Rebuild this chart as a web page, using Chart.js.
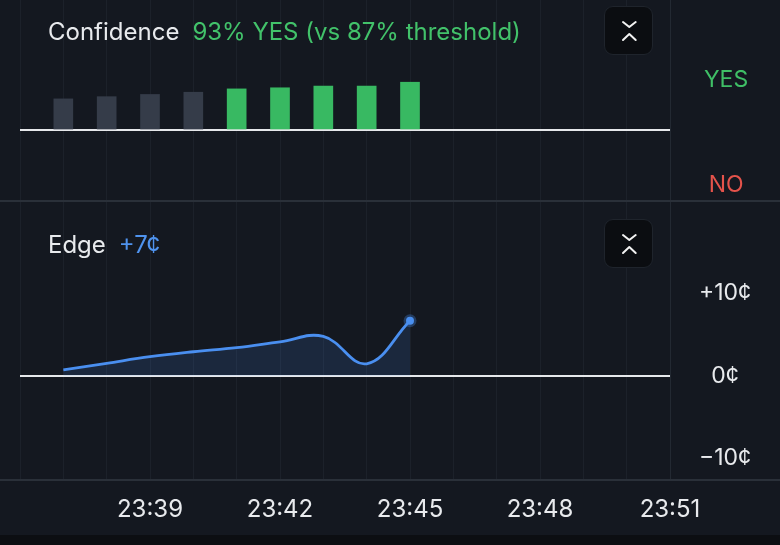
<!DOCTYPE html>
<html>
<head>
<meta charset="utf-8">
<script src="https://cdn.jsdelivr.net/npm/chart.js@4.4.1/dist/chart.umd.min.js"></script>
<style>
  html, body { margin: 0; padding: 0; background: #0c0e12; }
  body { width: 780px; height: 545px; position: relative; overflow: hidden; font-family: Inter, "Noto Sans", sans-serif; }
  .panel { position: absolute; left: 0; width: 780px; background: #141820; }
  #topWrap { top: 0; height: 200px; }
  #botWrap { top: 202px; height: 333px; }
  .rule { position: absolute; left: 0; width: 780px; height: 2px; background: #2a3039; }
  .head { position: absolute; left: 48px; font-size: 24px; line-height: 28px; color: #e8eaed; white-space: pre; }
  .head span { margin-left: 13px; }
  .btn { position: absolute; left: 604px; width: 47px; height: 47px; background: #0b0d11; border: 1px solid #1f242c; border-radius: 9px; }
  .btn svg { position: absolute; left: -1px; top: -1px; }
</style>
</head>
<body>
<div class="panel" id="topWrap"><canvas id="confChart"></canvas></div>
<div class="rule" style="top:200px"></div>
<div class="panel" id="botWrap"><canvas id="edgeChart"></canvas></div>
<div class="rule" style="top:479px"></div>

<div class="head" style="top:18px">Confidence<span id="confText" style="color:#42c26a"></span></div>
<div class="head" style="top:231px">Edge<span id="edgeText" style="color:#4f93ee"></span></div>

<div class="btn" style="top:6px"><svg width="49" height="49"><path d="M19 16 L25.3 21 L31.7 16 M19 34 L25.3 28 L31.7 34" fill="none" stroke="#f2f2f2" stroke-width="2" stroke-linecap="round" stroke-linejoin="round"/></svg></div>
<div class="btn" style="top:219px"><svg width="49" height="49"><path d="M19 16 L25.3 21 L31.7 16 M19 34 L25.3 28 L31.7 34" fill="none" stroke="#f2f2f2" stroke-width="2" stroke-linecap="round" stroke-linejoin="round"/></svg></div>

<script>
    // time axis, one slot per minute
    var axisMinutes = ['23:36', '23:37', '23:38', '23:39', '23:40', '23:41', '23:42', '23:43',
                       '23:44', '23:45', '23:46', '23:47', '23:48', '23:49', '23:50', '23:51'];
    var timeTicks = ['23:39', '23:42', '23:45', '23:48', '23:51'];

    // confidence bars (% YES)
    var confTimes = ['23:37', '23:38', '23:39', '23:40', '23:41', '23:42', '23:43', '23:44', '23:45'];
    var confidence = [78, 80, 82, 84, 87, 88, 89.5, 89.5, 93];
    var threshold = 87;
    var neutral = 50;

    // edge line (cents)
    var edgeTimes = ['23:37', '23:38', '23:39', '23:40', '23:41', '23:42', '23:43', '23:44', '23:45'];
    var edge = [0.7, 1.5, 2.3, 2.9, 3.4, 4.1, 4.75, 1.45, 6.65];
    var edgeTicks = [10, 0, -10];

    var GREEN = '#38b962';
    var GREY = '#353c49';
    var BLUE = '#4a8ff0';
    var WHITE = '#e6e8eb';
    var GRID = '#1c212a';
    var TEXT = '#e8eaed';
    var FONT = 'Inter, "Noto Sans", sans-serif';

    document.getElementById('confText').textContent =
        confidence[confidence.length - 1] + '% YES (vs ' + threshold + '% threshold)';
    var lastEdge = Math.round(edge[edge.length - 1]);
    document.getElementById('edgeText').textContent = (lastEdge > 0 ? '+' : '') + lastEdge + '¢';

    function minuteGrid(showLabels) {
        return {
            type: 'category',
            labels: axisMinutes,
            offset: false,
            grid: { color: GRID, lineWidth: 1, offset: false, drawTicks: false },
            border: { display: false },
            ticks: {
                display: showLabels,
                autoSkip: false,
                maxRotation: 0,
                padding: 15,
                color: TEXT,
                font: { family: FONT, size: 24 },
                callback: function (v) {
                    var l = this.getLabelForValue(v);
                    return timeTicks.indexOf(l) >= 0 ? l : '';
                }
            },
            afterFit: function (s) {
                s.height = showLabels ? 55 : 0;
                s.paddingLeft = 0; s.paddingRight = 0;
            }
        };
    }

    function sideAxis(min, max, tickValues, labelFn, colorFn, zeroValue, pad) {
        return {
            position: 'right',
            min: min,
            max: max,
            afterBuildTicks: function (s) {
                s.ticks = tickValues.map(function (v) { return { value: v }; });
            },
            grid: {
                drawTicks: false,
                color: function (c) { return c.tick && c.tick.value === zeroValue ? WHITE : 'rgba(0,0,0,0)'; },
                lineWidth: function (c) { return c.tick && c.tick.value === zeroValue ? 2 : 0; }
            },
            border: { display: true, color: '#232932', width: 1 },
            ticks: {
                crossAlign: 'center',
                padding: pad,
                color: colorFn,
                font: { family: FONT, size: 23 },
                callback: labelFn
            },
            afterFit: function (s) {
                s.width = 110;
                s.paddingTop = 0; s.paddingBottom = 0;
            }
        };
    }

    new Chart(document.getElementById('confChart'), {
        type: 'bar',
        data: {
            datasets: [{
                label: 'Confidence',
                data: confTimes.map(function (t, i) { return { x: t, y: confidence[i] }; }),
                base: neutral,
                barThickness: 19,
                backgroundColor: function (c) { return c.parsed && c.parsed.y >= threshold ? GREEN : GREY; }
            }]
        },
        options: {
            responsive: true,
            maintainAspectRatio: false,
            animation: false,
            layout: { autoPadding: false, padding: { left: 20, right: 0, top: 0, bottom: 0 } },
            plugins: { legend: { display: false }, tooltip: { enabled: false } },
            scales: {
                x: minuteGrid(false),
                y: sideAxis(-13, 167, [95, neutral, 0],
                    function (v) { return v === 95 ? 'YES' : (v === 0 ? 'NO' : ''); },
                    function (c) { return c.tick.value === 95 ? '#3fbf66' : '#e5534b'; },
                    neutral, 34)
            }
        }
    });

    new Chart(document.getElementById('edgeChart'), {
        type: 'line',
        data: {
            datasets: [{
                label: 'Edge',
                data: edgeTimes.map(function (t, i) { return { x: t, y: edge[i] }; }),
                borderColor: BLUE,
                borderWidth: 2.8,
                tension: 0.4,
                fill: 'origin',
                backgroundColor: 'rgba(74,143,240,0.14)',
                pointRadius: function (c) { return c.dataIndex === edge.length - 1 ? 4 : 0; },
                pointBackgroundColor: BLUE,
                pointBorderColor: 'rgba(74,143,240,0.3)',
                pointBorderWidth: 5
            }]
        },
        options: {
            responsive: true,
            maintainAspectRatio: false,
            animation: false,
            layout: { autoPadding: false, padding: { left: 20, right: 0, top: 0, bottom: 0 } },
            plugins: { legend: { display: false }, tooltip: { enabled: false } },
            scales: {
                x: minuteGrid(true),
                y: sideAxis(-12.6, 21, edgeTicks,
                    function (v) { return v > 0 ? '+' + v + '¢' : (v < 0 ? '−' + Math.abs(v) + '¢' : v + '¢'); },
                    function () { return TEXT; },
                    0, 29)
            }
        }
    });
</script>
</body>
</html>
